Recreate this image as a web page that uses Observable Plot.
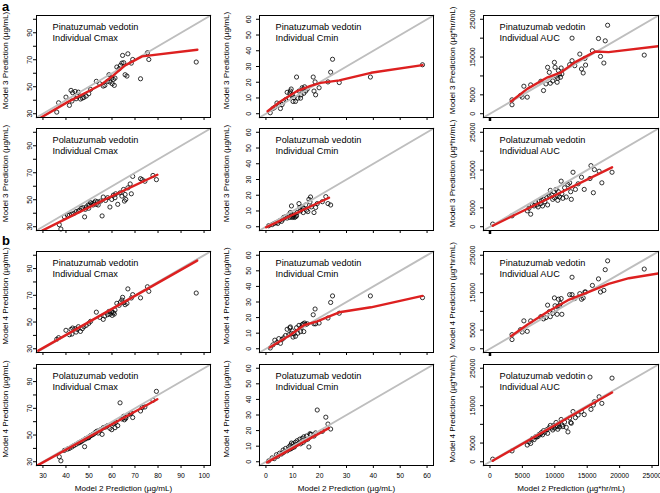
<!DOCTYPE html>
<html><head><meta charset="utf-8">
<script src="https://cdn.jsdelivr.net/npm/d3@7"></script>
<script src="https://cdn.jsdelivr.net/npm/@observablehq/plot@0.6"></script>
<style>
html,body{margin:0;padding:0;background:#fff;}
#wrap{position:relative;width:660px;height:493px;overflow:hidden;font-family:"Liberation Sans",Arial,Helvetica,sans-serif;}
.tag{position:absolute;font-weight:bold;font-size:13px;line-height:13px;}
.panel{position:absolute;}
</style></head><body>
<div id="wrap"><div class="tag" style="left:2px;top:0px">a</div><div class="tag" style="left:2px;top:234px">b</div></div>
<script>
// ---------- tick values ----------
const cmaxTicks = [30,40,50,60,70,80,90,100];
const cmaxYLabels = [30,50,70,90];
const cminTicks = [0,10,20,30,40,50,60];
const cminYLabels = [0,10,20,30,40,50,60];
const aucTicks = [0,5000,10000,15000,20000,25000];
const aucYLabels = [0,5000,15000,25000];

// ---------- Pinatuzumab vedotin ----------
const pinaCmaxX = [36.0,36.8,40.0,41.5,42.2,42.6,42.9,44.0,44.4,44.9,45.4,46.3,47.1,47.8,48.8,49.9,50.7,53.2,54.7,56.2,56.9,58.1,58.7,59.1,59.9,60.1,60.6,61.0,61.3,62.1,63.1,63.7,64.3,64.6,65.1,65.7,66.5,66.9,68.4,69.0,72.4,75.4,76.0,96.6];
const pinaCmaxM3 = [31.2,38.1,42.3,36.2,47.3,39.4,45.6,46.5,41.1,42.8,46.0,40.9,41.6,42.1,43.1,44.8,48.0,54.0,52.2,50.5,51.0,54.0,58.9,53.5,56.4,52.2,55.4,51.0,56.4,64.6,63.3,65.8,67.5,73.2,67.8,58.9,57.9,74.4,67.5,70.2,55.9,75.2,70.2,68.3];
const pinaCmaxM4 = [37.1,38.3,43.8,40.5,44.5,41.0,45.5,45.0,42.5,44.5,46.5,43.0,45.0,46.5,47.5,49.0,50.5,57.4,53.5,52.0,54.5,55.5,58.0,56.0,57.5,55.0,57.0,56.0,59.0,64.0,62.5,65.0,66.5,68.5,64.5,63.0,64.0,74.8,68.0,70.5,68.1,76.4,73.0,71.7];
const pinaCmaxM3FitX = [27.8,40.7,49.6,55.4,60.6,65.7,73.1,97.1];
const pinaCmaxM3FitY = [25.8,38.6,46.5,51.7,58.4,65.8,72.5,77.4];
const pinaCmaxM4FitX = [28.0,97.0];
const pinaCmaxM4FitY = [28.6,96.0];

const pinaCminX = [1.6,2.6,3.3,4.1,4.8,5.4,6.0,6.6,7.3,7.9,8.5,8.9,9.1,9.4,9.8,10.1,10.4,11.0,11.4,11.9,12.3,12.9,13.1,13.5,13.9,14.1,14.4,14.8,15.4,17.6,17.9,18.3,18.5,19.8,23.1,24.1,24.8,27.3,38.9,58.3];
const pinaCminM3 = [0.6,3.3,4.1,6.8,5.8,3.3,5.8,7.8,8.9,13.6,9.9,13.0,14.4,15.7,12.0,7.8,10.3,7.8,23.3,9.9,14.4,9.9,12.0,16.5,15.7,13.0,17.1,14.4,15.7,23.3,14.4,20.2,12.0,16.5,20.2,26.4,34.6,19.8,23.3,31.1];
const pinaCminM4 = [0.5,2.5,5.5,4.0,6.5,3.5,6.0,7.0,8.5,12.5,9.0,13.4,14.0,10.0,11.5,7.5,9.5,8.0,13.5,10.0,15.0,11.0,13.5,15.5,16.0,11.0,16.5,15.5,16.0,21.8,16.0,25.5,16.0,16.5,19.7,29.7,33.9,22.8,33.9,32.8];
const pinaCminM3FitX = [0.6,5.4,11.6,16.6,20.4,27.3,39.1,58.3];
const pinaCminM3FitY = [1.6,7.8,14.4,17.7,19.6,21.2,26.0,30.9];
const pinaCminM4FitX = [1.4,9.1,14.1,19.1,22.9,27.3,39.1,58.3];
const pinaCminM4FitY = [0.8,8.8,15.1,17.6,20.3,23.4,26.6,33.9];

const pinaAucX = [3400,3400,4700,4970,5230,5750,6280,7850,8260,8630,8890,9150,9310,9680,9940,10040,10200,10360,10460,10560,10720,10880,10980,11090,12290,12660,12660,13080,13860,14120,14380,14640,14750,15800,16740,17050,17570,17780,18150,23800];
const pinaAucM3 = [3680,2370,4820,4390,7280,4390,7630,8590,6140,7890,12280,10960,8070,8680,13590,12280,9910,8330,9380,11400,10520,9650,12100,10520,12980,14030,20000,12720,15790,11840,10790,14650,12890,16660,19910,15170,13420,19290,23420,15520];
const pinaAucM4 = [3770,2460,5090,4470,7460,4650,7460,8590,7990,8330,11660,9910,8590,9470,13590,11490,10610,9210,11230,13240,11490,12100,13420,9210,14470,14470,19120,13420,14730,13240,13590,15170,15170,16930,18680,15170,15610,21140,23500,21310];
const pinaAucM3FitX = [3240,5750,8890,10980,13080,16300,18300,26400];
const pinaAucM3FitY = [3240,6580,9650,10960,13590,16490,16300,17980];
const pinaAucM4FitX = [3240,5750,8890,12030,15170,18300,21440,26400];
const pinaAucM4FitY = [3330,6400,9910,12980,15170,17370,18860,20260];

// ---------- Polatuzumab vedotin ----------
const polaCmaxX = [37.8,37.1,39.3,40.7,41.5,42.5,43.4,44.4,45.4,46.0,46.6,47.4,48.1,48.4,48.8,49.6,49.9,50.3,50.7,51.3,51.8,52.2,52.8,53.2,53.7,54.0,55.1,55.7,56.2,57.2,58.1,59.1,59.9,60.6,61.3,61.6,62.5,63.5,64.3,65.0,65.4,65.7,66.0,66.9,67.9,68.4,69.0,72.4,73.1,74.3,77.8,79.3];
const polaCmaxM3 = [28.3,31.5,37.3,38.5,38.8,39.3,39.8,41.2,41.7,42.2,43.7,44.1,37.3,42.9,44.6,46.1,43.7,46.1,47.8,47.1,46.1,47.8,49.0,46.6,48.5,46.1,49.0,38.0,52.0,49.5,51.5,44.6,50.2,53.4,51.5,54.4,46.6,55.1,52.7,57.6,49.0,53.9,50.2,58.8,61.7,54.4,67.3,65.6,64.9,63.7,68.0,64.9];
const polaCmaxM4 = [30.7,33.7,38.5,39.5,40.0,41.0,42.0,43.0,44.0,44.5,45.0,46.0,41.3,47.0,47.5,48.0,48.0,49.0,49.5,50.0,50.5,51.0,52.0,52.5,53.0,51.5,54.0,50.5,55.5,56.0,57.0,55.0,54.0,58.5,55.5,59.5,57.0,74.1,62.0,64.0,61.4,63.0,62.5,65.0,66.0,66.5,63.1,68.0,70.5,71.0,76.0,82.7];
const polaCmaxM3FitX = [29.7,55.4,79.7];
const polaCmaxM3FitY = [27.1,49.0,68.5];
const polaCmaxM4FitX = [27.5,79.7];
const polaCmaxM4FitY = [27.1,76.8];

const polaCminX = [1.0,2.3,3.1,3.9,4.4,5.1,5.8,6.4,6.6,7.3,7.9,8.5,8.9,9.1,9.4,9.5,9.8,10.1,10.4,10.6,11.0,11.4,11.6,12.3,12.6,12.9,13.5,13.9,14.1,14.8,15.1,15.6,16.0,16.4,16.6,16.9,17.9,18.5,19.1,21.0,22.3,23.1,24.1];
const polaCminM3 = [0.6,1.3,2.1,2.7,2.1,3.8,3.4,4.8,5.9,6.3,5.5,7.5,5.9,9.0,7.5,13.2,5.9,6.7,7.5,5.9,6.3,6.9,9.0,14.7,12.2,10.1,12.6,9.0,11.7,13.8,10.5,9.6,17.4,15.7,18.9,12.6,9.0,12.2,14.7,15.9,19.1,14.7,13.8];
const polaCminM4 = [0.5,2.5,2.0,4.5,3.5,5.5,5.0,7.5,6.0,8.5,7.0,9.5,8.0,10.5,8.5,12.0,9.0,11.5,10.0,9.5,12.5,11.0,13.5,12.0,14.5,11.5,15.0,12.5,16.0,14.0,16.5,14.5,9.5,18.0,17.5,17.5,16.5,18.5,33.2,19.5,28.6,24.2,21.0];
const polaCminM3FitX = [0.0,23.5];
const polaCminM3FitY = [-0.4,18.4];
const polaCminM4FitX = [0.4,23.4];
const polaCminM4FitY = [-0.4,21.6];

const polaAucX = [420,3400,5750,6020,6280,6540,6800,7060,7220,7430,7580,7850,7950,8110,8260,8470,8790,8890,9150,9310,9520,9680,9830,9940,10200,10360,10460,10560,10720,10980,11090,11240,11510,11770,12030,12290,12450,12550,12810,13180,13600,14120,14540,15430,15580,15950,16110,16840,17260,18830];
const polaAucM3 = [700,2880,4200,4900,3320,5770,5500,6380,5770,5240,6820,6120,6990,5500,7250,6640,7690,5770,8130,9610,8390,7250,9260,7690,9880,8130,6990,9260,7870,12060,8740,7520,10310,7870,11190,11620,9260,7250,14420,9880,11360,13110,9880,12760,16170,9000,15120,14680,11620,14420];
const polaAucM4 = [700,2900,4470,5300,4900,6200,5900,6700,6600,6800,7300,7500,7800,7200,8300,7900,8600,7600,9100,9700,9000,8500,9700,9000,10500,9400,8700,10000,9300,11300,9800,9400,10600,9200,7980,11700,10500,10300,13420,11800,12500,13420,12600,22630,14000,15170,16050,17370,15610,22360];
const polaAucM3FitX = [420,18830];
const polaAucM3FitY = [260,15730];
const polaAucM4FitX = [420,18830];
const polaAucM4FitY = [260,18500];

// ---------- layout ----------
const FONT = '"Liberation Sans", Arial, Helvetica, sans-serif';
const GRAY = "#bebebe", RED = "#dd2020";
const colSpecs = [
  {svgLeft:0, boxL:36, boxR:210, titleX:7.5, yPad:1.5, domain:[27.2,102.8], ticks:cmaxTicks, yLabels:cmaxYLabels, unit:"(µg/mL)", metric:"Cmax"},
  {svgLeft:214, boxL:259, boxR:433, titleX:228.3, yPad:5.5, domain:[-2.4,62.4], ticks:cminTicks, yLabels:cminYLabels, unit:"(µg/mL)", metric:"Cmin"},
  {svgLeft:438, boxL:483, boxR:658, titleX:454, yPad:6, domain:[-1000,26000], ticks:aucTicks, yLabels:aucYLabels, unit:"(µg*hr/mL)", metric:"AUC"}
];
const rowSpecs = [
  {top:15, bottom:117, drug:"Pinatuzumab vedotin", model:3, last:false},
  {top:128, bottom:230, drug:"Polatuzumab vedotin", model:3, last:false},
  {top:251, bottom:352, drug:"Pinatuzumab vedotin", model:4, last:false},
  {top:364, bottom:465, drug:"Polatuzumab vedotin", model:4, last:true}
];
const panelData = [
  [{x:pinaCmaxX,y:pinaCmaxM3,fx:pinaCmaxM3FitX,fy:pinaCmaxM3FitY},{x:pinaCminX,y:pinaCminM3,fx:pinaCminM3FitX,fy:pinaCminM3FitY},{x:pinaAucX,y:pinaAucM3,fx:pinaAucM3FitX,fy:pinaAucM3FitY}],
  [{x:polaCmaxX,y:polaCmaxM3,fx:polaCmaxM3FitX,fy:polaCmaxM3FitY},{x:polaCminX,y:polaCminM3,fx:polaCminM3FitX,fy:polaCminM3FitY},{x:polaAucX,y:polaAucM3,fx:polaAucM3FitX,fy:polaAucM3FitY}],
  [{x:pinaCmaxX,y:pinaCmaxM4,fx:pinaCmaxM4FitX,fy:pinaCmaxM4FitY},{x:pinaCminX,y:pinaCminM4,fx:pinaCminM4FitX,fy:pinaCminM4FitY},{x:pinaAucX,y:pinaAucM4,fx:pinaAucM4FitX,fy:pinaAucM4FitY}],
  [{x:polaCmaxX,y:polaCmaxM4,fx:polaCmaxM4FitX,fy:polaCmaxM4FitY},{x:polaCminX,y:polaCminM4,fx:polaCminM4FitX,fy:polaCminM4FitY},{x:polaAucX,y:polaAucM4,fx:polaAucM4FitX,fy:polaAucM4FitY}]
];

const wrap = document.getElementById("wrap");
rowSpecs.forEach((row, ri) => {
  colSpecs.forEach((col, ci) => {
    const d = panelData[ri][ci];
    const mT = 4, mB = row.last ? 30 : 7, mL = col.boxL - col.svgLeft, mR = 2;
    const W = col.boxR - col.boxL, H = row.bottom - row.top;
    const pts = d.x.map((x, i) => ({x, y: d.y[i]}));
    const fit = d.fx.map((x, i) => ({x, y: d.fy[i]}));
    const diag = col.domain.map(v => ({v}));
    const marks = [
      Plot.dot(pts, {x:"x", y:"y", r:2.1, stroke:"black", strokeWidth:0.8, fill:"none"}),
      Plot.line(diag, {x:"v", y:"v", stroke:GRAY, strokeWidth:2}),
      Plot.line(fit, {x:"x", y:"y", stroke:RED, strokeWidth:2.4, clip:true}),
      Plot.frame({stroke:"black", strokeWidth:1}),
      Plot.axisY({ticks:col.ticks, tickSize:3, tickPadding:col.yPad, tickRotate:-90, fontSize:7, label:null,
        tickFormat: v => col.yLabels.includes(v) ? String(v) : ""}),
      Plot.text([`${row.drug}\nIndividual ${col.metric}`], {text:t=>t, frameAnchor:"top-left", dx:16, dy:7,
        textAnchor:"start", lineAnchor:"top", fontSize:9.2, lineHeight:1.2}),
      Plot.text([`Model ${row.model} Prediction ${col.unit}`], {text:t=>t, frameAnchor:"left", dx:col.titleX - col.boxL, dy:-6,
        rotate:-90, textAnchor:"middle", lineAnchor:"bottom", fontSize:8.1})
    ];
    if (row.last || ci < 2) {
      marks.push(Plot.axisX({ticks:col.ticks, tickSize:3, tickPadding:5, fontSize:6.8, label:null,
        tickFormat: v => row.last ? String(v) : ""}));
    } else {
      marks.push(Plot.axisX({ticks:[0], tickSize:4, strokeWidth:2.5, label:null, tickFormat: () => ""}));
    }
    if (row.last) {
      marks.push(Plot.text([`Model 2 Prediction ${col.unit}`], {text:t=>t, frameAnchor:"bottom", dy:25,
        lineAnchor:"bottom", textAnchor:"middle", fontSize:8.1}));
    }
    const svg = Plot.plot({
      width: mL + W + mR, height: mT + H + mB,
      marginLeft: mL, marginRight: mR, marginTop: mT, marginBottom: mB,
      x: {domain: col.domain}, y: {domain: col.domain},
      style: {fontFamily: FONT, background: "transparent", overflow: "visible", color: "black"},
      marks
    });
    const holder = document.createElement("div");
    holder.className = "panel";
    holder.style.left = col.svgLeft + "px";
    holder.style.top = (row.top - mT) + "px";
    holder.appendChild(svg);
    wrap.appendChild(holder);
  });
});
</script></body></html>
